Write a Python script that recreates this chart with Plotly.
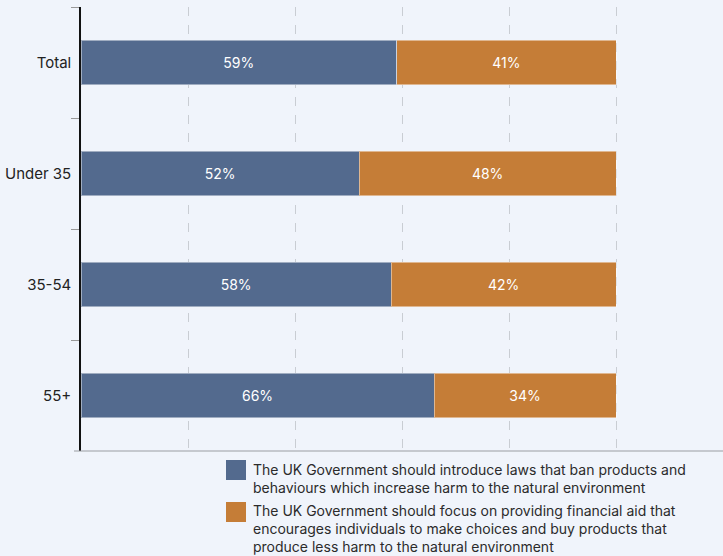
import plotly.graph_objects as go

# Survey answers by age group (share of respondents, %)
groups = ["Total", "Under 35", "35-54", "55+"]
ban_laws = [59, 52, 58, 66]
financial_aid = [41, 48, 42, 34]

legend_labels = [
    "The UK Government should introduce laws that ban products and<br>behaviours which increase harm to the natural environment",
    "The UK Government should focus on providing financial aid that<br>encourages individuals to make choices and buy products that<br>produce less harm to the natural environment",
]

BLUE = "#536a8e"
ORANGE = "#c57d37"
BG = "#f0f4fb"
FONT = "Inter"

W, H = 723, 556
L, R, T, B = 81, 0, 7, 105

fig = go.Figure()
for vals, color, name in [(ban_laws, BLUE, legend_labels[0]), (financial_aid, ORANGE, legend_labels[1])]:
    fig.add_trace(go.Bar(
        y=groups, x=vals, orientation="h", name=name,
        marker=dict(color=color, line=dict(color="rgba(255,255,255,0.45)", width=1)),
        text=[f"{v}%" for v in vals], textposition="inside",
        insidetextanchor="middle",
        textfont=dict(color="white", size=14, family=FONT),
        hoverinfo="skip", showlegend=False,
    ))

# Legend drawn as swatches plus text blocks beneath the plot
plot_h = H - T - B
plot_w = W - L - R

def px_x(x):
    return (x - L) / plot_w

def px_y(y):
    return (H - B - y) / plot_h

swatches = [(226, 460, 246, 480), (226, 502, 246, 522)]
text_tops = [460, 501]
for (x0, y0, x1, y1), color, label, ty in zip(swatches, [BLUE, ORANGE], legend_labels, text_tops):
    fig.add_shape(type="rect", xref="paper", yref="paper",
                  x0=px_x(x0), x1=px_x(x1), y0=px_y(y1), y1=px_y(y0),
                  fillcolor=color, line=dict(width=0))
    fig.add_annotation(xref="paper", yref="paper", x=px_x(252), y=px_y(ty),
                       xanchor="left", yanchor="top", align="left", borderpad=0,
                       text=label, showarrow=False,
                       font=dict(size=14, color="#2b2b2b", family=FONT))

# baseline extends slightly left of the category axis
fig.add_shape(type="line", xref="paper", yref="paper",
              x0=px_x(74), x1=1, y0=0, y1=0,
              line=dict(color="#9a9da2", width=1))

fig.update_layout(
    barmode="stack", bargap=0.6,
    width=W, height=H,
    margin=dict(l=L, r=R, t=T, b=B, pad=0),
    paper_bgcolor=BG, plot_bgcolor=BG,
    font=dict(family=FONT, size=14, color="#222"),
    xaxis=dict(range=[0, 120], tickvals=[20, 40, 60, 80, 100, 120],
               showticklabels=False, showgrid=True,
               gridcolor="#c9cdd3", griddash="dash", gridwidth=1,
               zeroline=False, showline=False,
               fixedrange=True),
    yaxis=dict(autorange="reversed", showline=True, linecolor="#111", linewidth=1.5,
               ticks="outside", tickson="boundaries", ticklen=8, tickcolor="#999",
               tickfont=dict(size=15, color="#222", family=FONT),
               ticklabelstandoff=5, showgrid=False, zeroline=False),
)

fig.write_html("out.html")
